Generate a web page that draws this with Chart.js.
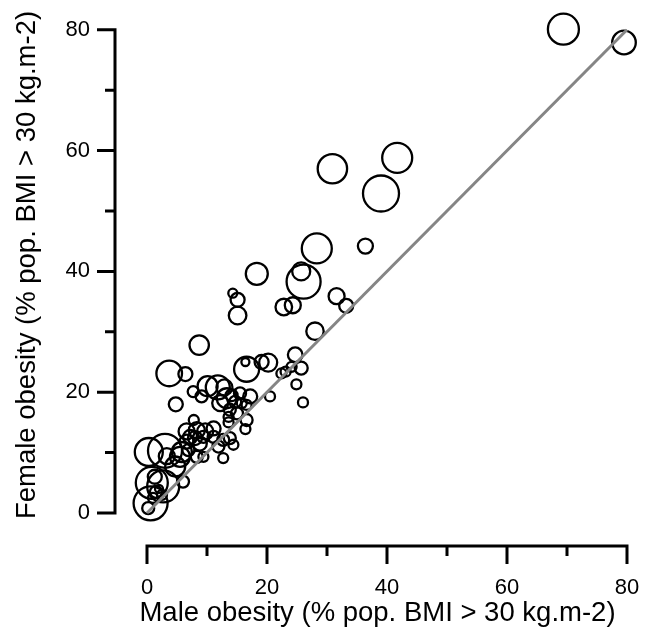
<!DOCTYPE html>
<html>
<head>
<meta charset="utf-8">
<title>Male vs female obesity</title>
<script src="https://cdn.jsdelivr.net/npm/chart.js@4.4.1/dist/chart.umd.min.js"></script>
<style>
  html, body { margin: 0; padding: 0; background: #fff; }
  #wrap { width: 648px; height: 627px; }
</style>
</head>
<body>
<div id="wrap"><canvas id="obesityChart" width="648" height="627"></canvas></div>
<script>
// ---- data ----
const maleObesity = [
  69.4, 79.5, 41.7, 39.0, 30.9, 28.3, 36.4, 31.6, 33.2, 26.1,
  25.7, 28.0, 18.3, 14.3, 15.1, 15.1, 22.8, 24.3, 8.7, 3.7,
  6.4, 16.6, 16.4, 19.1, 20.2, 24.7, 22.4, 23.1, 24.1, 25.7,
  24.9, 26.0, 20.5, 4.8, 7.7, 9.1, 10.1, 11.8, 12.9, 13.3,
  12.2, 14.1, 14.7, 15.5, 15.8, 17.2, 16.6, 13.8, 13.6, 15.0,
  13.6, 16.6, 16.4, 7.8, 6.6, 8.3, 9.7, 11.1, 8.0, 9.4,
  11.1, 6.6, 12.7, 13.8, 14.4, 12.7, 11.9, 8.8, 6.9, 5.5,
  4.7, 8.3, 9.4, 6.0, 0.3, 3.0, 0.8, 0.6, 2.7, 0.2,
  1.3, 1.5, 2.5, 3.3, 5.8, 1.0, 2.0, 7.2
];
const femaleObesity = [
  80.1, 77.9, 58.8, 52.9, 57.0, 43.8, 44.2, 35.9, 34.3, 38.3,
  40.0, 30.1, 39.6, 36.4, 35.3, 32.7, 34.1, 34.4, 27.8, 23.1,
  23.0, 23.8, 25.0, 25.0, 24.9, 26.2, 23.1, 23.4, 24.2, 24.0,
  21.3, 18.3, 19.3, 18.0, 20.1, 19.3, 21.0, 20.8, 20.8, 19.0,
  18.2, 19.5, 18.4, 19.8, 18.2, 19.3, 17.9, 17.1, 15.9, 16.5,
  15.0, 15.4, 13.9, 15.4, 13.5, 13.7, 13.5, 14.0, 12.4, 12.6,
  12.6, 11.8, 12.1, 12.4, 11.3, 9.1, 11.0, 11.5, 10.4, 9.3,
  7.7, 9.3, 9.3, 5.2, 10.1, 10.3, 5.0, 1.6, 4.4, 0.8,
  6.0, 3.5, 3.0, 9.4, 10.1, 2.5, 4.0, 12.6
];
// bubble radius (third data dimension of the bubble chart)
const bubbleSize = [
  15.5, 11.8, 15, 18, 14.7, 15, 7.5, 8, 7, 17,
  9, 8.7, 11, 4.5, 7, 8.8, 8.3, 8, 9.7, 12.8,
  7, 12.5, 4, 7, 9, 7.3, 5, 5, 5, 6.5,
  5, 5, 5, 7, 5.5, 6, 10, 12, 8, 10,
  8, 6, 6, 6, 5, 7, 5, 6, 5, 6,
  5, 6, 5, 5, 8, 8, 8, 7, 7, 6,
  6, 7, 6, 6, 5, 5, 6, 7, 6, 10,
  10, 6, 5, 6, 14, 17, 16, 17, 16, 6,
  7, 6, 5, 8, 10, 5, 4, 7
];
const tickValues = [0, 20, 40, 60, 80];
const minorTickValues = [10, 30, 50, 70];
const parityX = [0, 80];
const parityY = [0, 80];

const FONT = "'Liberation Sans', Arial, Helvetica, sans-serif";

const bubbles = maleObesity.map((m, i) => ({ x: m, y: femaleObesity[i], r: bubbleSize[i] }));
const parity = parityX.map((v, i) => ({ x: v, y: parityY[i] }));

// axis lines + tick marks drawn detached from the plot, like the original
const offsetAxes = {
  id: "offsetAxes",
  afterDraw(chart) {
    const { ctx, chartArea, scales } = chart;
    const xs = scales.x, ys = scales.y;
    const axisX = chartArea.left;
    const axisY = chartArea.bottom + 26;
    const major = 18, minor = 10;
    const lo = tickValues[0], hi = tickValues[tickValues.length - 1];

    ctx.save();
    ctx.strokeStyle = "#000";
    ctx.lineWidth = 3;
    ctx.lineJoin = "miter";
    ctx.lineCap = "butt";

    // y axis
    ctx.beginPath();
    ctx.moveTo(axisX - major, ys.getPixelForValue(hi));
    ctx.lineTo(axisX, ys.getPixelForValue(hi));
    ctx.lineTo(axisX, ys.getPixelForValue(lo));
    ctx.lineTo(axisX - major, ys.getPixelForValue(lo));
    ctx.stroke();

    // x axis
    ctx.beginPath();
    ctx.moveTo(xs.getPixelForValue(lo), axisY + major);
    ctx.lineTo(xs.getPixelForValue(lo), axisY);
    ctx.lineTo(xs.getPixelForValue(hi), axisY);
    ctx.lineTo(xs.getPixelForValue(hi), axisY + major);
    ctx.stroke();

    ctx.beginPath();
    tickValues.slice(1, -1).forEach(v => {
      const py = ys.getPixelForValue(v);
      ctx.moveTo(axisX - major, py); ctx.lineTo(axisX, py);
      const px = xs.getPixelForValue(v);
      ctx.moveTo(px, axisY); ctx.lineTo(px, axisY + major);
    });
    minorTickValues.forEach(v => {
      const py = ys.getPixelForValue(v);
      ctx.moveTo(axisX - minor, py); ctx.lineTo(axisX, py);
      const px = xs.getPixelForValue(v);
      ctx.moveTo(px, axisY); ctx.lineTo(px, axisY + minor);
    });
    ctx.stroke();
    ctx.restore();
  }
};

const setTicks = scale => { scale.ticks = tickValues.map(v => ({ value: v })); };

new Chart(document.getElementById("obesityChart"), {
  type: "bubble",
  data: {
    datasets: [
      {
        type: "line",
        data: parity,
        borderColor: "#858585",
        borderWidth: 3,
        pointRadius: 0,
        fill: false,
        order: 0
      },
      {
        data: bubbles,
        borderColor: "#000",
        backgroundColor: "rgba(0,0,0,0)",
        borderWidth: 2.3,
        clip: false,
        order: 1
      }
    ]
  },
  plugins: [offsetAxes],
  options: {
    responsive: false,
    animation: false,
    events: [],
    layout: { autoPadding: false, padding: { left: 0, right: 8, top: 10, bottom: 0 } },
    plugins: { legend: { display: false }, tooltip: { enabled: false } },
    scales: {
      x: {
        type: "linear",
        min: -5.333,
        max: 82.167,
        afterBuildTicks: setTicks,
        // fixed box; the big label padding must not shrink the plot area
        afterFit: s => { s.height = 107; s.paddingLeft = 0; s.paddingRight = 0; },
        border: { display: false },
        grid: { display: false, drawTicks: false },
        ticks: { color: "#000", padding: 55, maxRotation: 0, font: { family: FONT, size: 22 } },
        title: {
          display: true,
          text: "Male obesity (% pop. BMI > 30 kg.m-2)",
          color: "#000",
          font: { family: FONT, size: 27.5, lineHeight: 1 },
          padding: { top: 0, bottom: 0 }
        }
      },
      y: {
        type: "linear",
        min: -1.16,
        max: 83.28,
        afterBuildTicks: setTicks,
        afterFit: s => { s.width = 115; s.paddingTop = 0; s.paddingBottom = 0; },
        border: { display: false },
        grid: { display: false, drawTicks: false },
        ticks: { color: "#000", padding: 25, font: { family: FONT, size: 22 } },
        title: {
          display: true,
          text: "Female obesity (% pop. BMI > 30 kg.m-2)",
          color: "#000",
          font: { family: FONT, size: 27.5, lineHeight: 1 },
          padding: { top: 14, bottom: 0 }
        }
      }
    }
  }
});
</script>
</body>
</html>
